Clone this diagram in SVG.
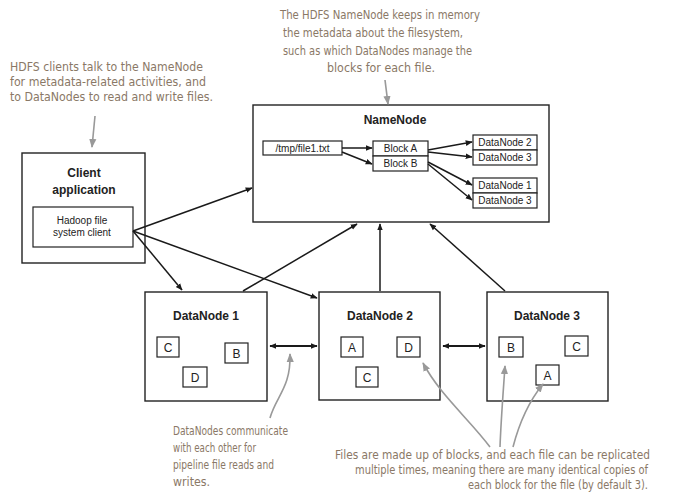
<svg xmlns="http://www.w3.org/2000/svg" width="676" height="504" viewBox="0 0 676 504">
<style>
.box{fill:#fff;stroke:#222;stroke-width:1.4}
.sbox{fill:#fff;stroke:#222;stroke-width:1.2}
.title{font-family:"Liberation Sans",Arial,sans-serif;font-weight:bold;font-size:12px;fill:#222;text-anchor:middle}
.lbl{font-family:"Liberation Sans",Arial,sans-serif;font-size:10px;fill:#222;text-anchor:middle}
.letter{font-family:"Liberation Sans",Arial,sans-serif;font-size:12px;fill:#222;text-anchor:middle}
.note{font-family:"DejaVu Sans Condensed","Liberation Sans",sans-serif;font-size:11.5px;fill:#8a7866}
.conn{stroke:#1a1a1a;stroke-width:1.5;fill:none;marker-end:url(#ah)}
.dbl{stroke:#1a1a1a;stroke-width:1.8;fill:none;marker-start:url(#ahs);marker-end:url(#ah)}
.ann{stroke:#999;stroke-width:1.6;fill:none;marker-end:url(#ag)}
</style>
<defs>
<marker id="ah" viewBox="0 0 10 10" refX="9" refY="5" markerWidth="7" markerHeight="7" markerUnits="userSpaceOnUse" orient="auto"><path d="M0,1 L10,5 L0,9 Z" fill="#1a1a1a"/></marker>
<marker id="ahs" viewBox="0 0 10 10" refX="1" refY="5" markerWidth="7" markerHeight="7" markerUnits="userSpaceOnUse" orient="auto"><path d="M10,1 L0,5 L10,9 Z" fill="#1a1a1a"/></marker>
<marker id="ag" viewBox="0 0 10 10" refX="9" refY="5" markerWidth="9" markerHeight="9" markerUnits="userSpaceOnUse" orient="auto"><path d="M0,1 L10,5 L0,9 Z" fill="#999"/></marker>
</defs>

<g id="client">
<rect class="box" x="22" y="153" width="123" height="110"/>
<text class="title" x="84" y="177">Client</text>
<text class="title" x="84" y="194">application</text>
<rect class="sbox" x="33" y="207" width="100" height="40"/>
<text class="lbl" x="82" y="224">Hadoop file</text>
<text class="lbl" x="82" y="236">system client</text>
</g>

<g id="namenode">
<rect class="box" x="253" y="105" width="296" height="117"/>
<text class="title" x="395" y="124">NameNode</text>
<rect class="sbox" x="263" y="141" width="79" height="14"/>
<text class="lbl" x="302.5" y="152">/tmp/file1.txt</text>
<rect class="sbox" x="373" y="141" width="55" height="15"/>
<text class="lbl" x="400.5" y="152">Block A</text>
<rect class="sbox" x="373" y="156" width="55" height="15"/>
<text class="lbl" x="400.5" y="167">Block B</text>
<rect class="sbox" x="473" y="135" width="64" height="15"/>
<text class="lbl" x="505" y="146">DataNode 2</text>
<rect class="sbox" x="473" y="150" width="64" height="15"/>
<text class="lbl" x="505" y="161">DataNode 3</text>
<rect class="sbox" x="473" y="178" width="64" height="15"/>
<text class="lbl" x="505" y="189">DataNode 1</text>
<rect class="sbox" x="473" y="193" width="64" height="15"/>
<text class="lbl" x="505" y="204">DataNode 3</text>
</g>

<g id="datanode1">
<rect class="box" x="145" y="292" width="122" height="109"/>
<text class="title" x="206" y="320">DataNode 1</text>
<rect class="sbox" x="157" y="337" width="22" height="20"/><text class="letter" x="168" y="352">C</text>
<rect class="sbox" x="225" y="343" width="23" height="20"/><text class="letter" x="236.5" y="358">B</text>
<rect class="sbox" x="183" y="367" width="24" height="20"/><text class="letter" x="195" y="382">D</text>
</g>

<g id="datanode2">
<rect class="box" x="319" y="292" width="121" height="108"/>
<text class="title" x="380" y="320">DataNode 2</text>
<rect class="sbox" x="341" y="337" width="22" height="20"/><text class="letter" x="352" y="352">A</text>
<rect class="sbox" x="397" y="337" width="23" height="20"/><text class="letter" x="408.5" y="352">D</text>
<rect class="sbox" x="356" y="367" width="22" height="20"/><text class="letter" x="367" y="382">C</text>
</g>

<g id="datanode3">
<rect class="box" x="487" y="292" width="121" height="109"/>
<text class="title" x="547" y="320">DataNode 3</text>
<rect class="sbox" x="499" y="337" width="24" height="20"/><text class="letter" x="511" y="352">B</text>
<rect class="sbox" x="565" y="336" width="23" height="20"/><text class="letter" x="576.5" y="351">C</text>
<rect class="sbox" x="536" y="365" width="23" height="20"/><text class="letter" x="547.5" y="380">A</text>
</g>

<g id="connectors">
<line class="conn" x1="342" y1="148" x2="372" y2="148"/>
<line class="conn" x1="342" y1="152" x2="372" y2="164"/>
<line class="conn" x1="428" y1="150" x2="472" y2="142"/>
<line class="conn" x1="428" y1="152" x2="472" y2="157"/>
<line class="conn" x1="428" y1="162" x2="472" y2="185"/>
<line class="conn" x1="428" y1="164" x2="472" y2="200"/>
<line class="conn" x1="133" y1="231" x2="252" y2="188"/>
<line class="conn" x1="133" y1="231" x2="182" y2="290"/>
<line class="conn" x1="133" y1="231" x2="317" y2="298"/>
<line class="conn" x1="243" y1="291" x2="357" y2="224"/>
<line class="conn" x1="380" y1="291" x2="380" y2="224"/>
<line class="conn" x1="505" y1="291" x2="430" y2="224"/>
<line class="dbl" x1="270" y1="346" x2="317" y2="346"/>
<line class="dbl" x1="443" y1="346" x2="485" y2="346"/>
</g>

<g id="annotations">
<text class="note" x="10" y="71" textLength="193" lengthAdjust="spacingAndGlyphs">HDFS clients talk to the NameNode</text>
<text class="note" x="10" y="86" textLength="196" lengthAdjust="spacingAndGlyphs">for metadata-related activities, and</text>
<text class="note" x="10" y="101" textLength="203" lengthAdjust="spacingAndGlyphs">to DataNodes to read and write files.</text>
<path class="ann" d="M95,116 L92,147"/>

<text class="note" x="280" y="19" textLength="200" lengthAdjust="spacingAndGlyphs">The HDFS NameNode keeps in memory</text>
<text class="note" x="283" y="37" textLength="180" lengthAdjust="spacingAndGlyphs">the metadata about the filesystem,</text>
<text class="note" x="283" y="55" textLength="189" lengthAdjust="spacingAndGlyphs">such as which DataNodes manage the</text>
<text class="note" x="327" y="72" textLength="108" lengthAdjust="spacingAndGlyphs">blocks for each file.</text>
<path class="ann" d="M385,80 L388,104"/>

<text class="note" x="173" y="435" textLength="115" lengthAdjust="spacingAndGlyphs">DataNodes communicate</text>
<text class="note" x="173" y="452" textLength="83" lengthAdjust="spacingAndGlyphs">with each other for</text>
<text class="note" x="173" y="469" textLength="101" lengthAdjust="spacingAndGlyphs">pipeline file reads and</text>
<text class="note" x="173" y="486" textLength="37" lengthAdjust="spacingAndGlyphs">writes.</text>
<path class="ann" d="M270,418 C276,396 291,388 290,354"/>

<text class="note" x="335" y="459" textLength="315" lengthAdjust="spacingAndGlyphs">Files are made up of blocks, and each file can be replicated</text>
<text class="note" x="355" y="474" textLength="293" lengthAdjust="spacingAndGlyphs">multiple times, meaning there are many identical copies of</text>
<text class="note" x="468" y="489" textLength="180" lengthAdjust="spacingAndGlyphs">each block for the file (by default 3).</text>
<path class="ann" d="M490,447 C470,420 440,395 423,363"/>
<path class="ann" d="M500,447 C501,420 503,395 505,366"/>
<path class="ann" d="M513,447 C520,420 530,400 543,384"/>
</g>
</svg>
